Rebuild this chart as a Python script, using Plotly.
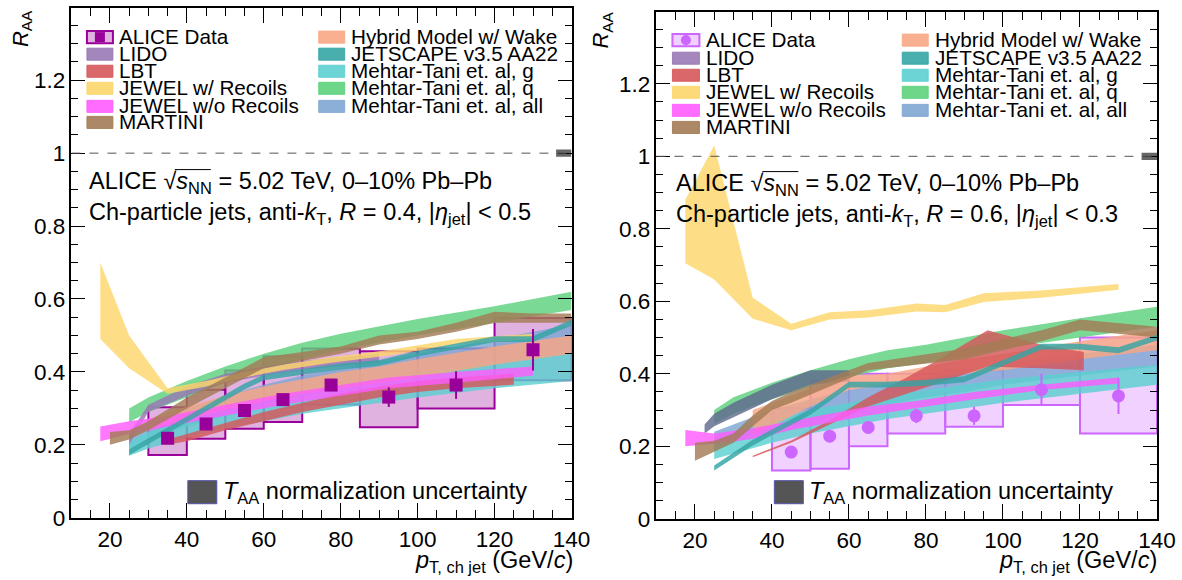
import plotly.graph_objects as go

FONT = "Liberation Sans, Arial, Helvetica, sans-serif"
# layout coordinates below are given on a 1182 x 580 grid; the canvas itself
# is slightly larger and is shown shrunk to that grid
GRID_W, GRID_H = 1182, 580
W, H = 1200, 595

# ---------------- R = 0.4, |eta_jet| < 0.5 ----------------
L_EDGES = [30, 40, 50, 60, 70, 85, 100, 120, 140]
L_RAA = [0.218, 0.257, 0.294, 0.324, 0.364, 0.331, 0.364, 0.461]
L_STAT = [0.010, 0.010, 0.010, 0.010, 0.012, 0.027, 0.038, 0.057]
L_SYS_LO = [0.172, 0.217, 0.244, 0.263, 0.311, 0.248, 0.300, 0.377]
L_SYS_HI = [0.303, 0.351, 0.404, 0.443, 0.464, 0.457, 0.464, 0.548]

L_LIDO_X = [25, 30, 40, 50, 60, 70, 80, 90]
L_LIDO_LO = [0.20, 0.29, 0.335, 0.37, 0.39, 0.405, 0.415, 0.425]
L_LIDO_HI = [0.23, 0.31, 0.36, 0.395, 0.415, 0.43, 0.44, 0.45]

L_LBT_X = [35, 40, 50, 60, 70, 80, 90, 100, 110, 125]
L_LBT_LO = [0.20, 0.21, 0.24, 0.265, 0.29, 0.31, 0.33, 0.345, 0.355, 0.365]
L_LBT_HI = [0.215, 0.23, 0.26, 0.29, 0.315, 0.34, 0.36, 0.375, 0.385, 0.395]

L_JEWELR_X = [17.5, 25, 35, 45, 55, 65, 77.5, 92.5, 110, 130]
L_JEWELR_LO = [0.49, 0.41, 0.34, 0.36, 0.385, 0.405, 0.425, 0.445, 0.475, 0.49]
L_JEWELR_HI = [0.70, 0.50, 0.355, 0.375, 0.40, 0.42, 0.44, 0.46, 0.49, 0.505]

L_JEWEL_X = [17.5, 25, 35, 45, 55, 65, 77.5, 92.5, 110, 130]
L_JEWEL_LO = [0.21, 0.23, 0.25, 0.27, 0.29, 0.31, 0.33, 0.355, 0.37, 0.39]
L_JEWEL_HI = [0.25, 0.265, 0.28, 0.30, 0.32, 0.34, 0.36, 0.385, 0.40, 0.415]

L_MARTINI_X = [20, 25, 30, 40, 50, 60, 70, 80, 90, 100, 110, 120, 130, 140]
L_MARTINI_LO = [0.20, 0.215, 0.24, 0.30, 0.355, 0.41, 0.43, 0.45, 0.475, 0.49, 0.51, 0.535, 0.535, 0.535]
L_MARTINI_HI = [0.235, 0.24, 0.265, 0.33, 0.385, 0.44, 0.455, 0.47, 0.50, 0.51, 0.535, 0.565, 0.56, 0.56]

L_HYBRID_X = [30, 40, 50, 60, 70, 80, 90, 100, 120, 140]
L_HYBRID_LO = [0.24, 0.27, 0.295, 0.32, 0.34, 0.355, 0.37, 0.385, 0.42, 0.45]
L_HYBRID_HI = [0.27, 0.305, 0.335, 0.36, 0.38, 0.40, 0.415, 0.435, 0.47, 0.50]

L_JETSCAPE_X = [25, 35, 45, 55, 60, 70, 80, 90, 100, 110, 120, 130, 140]
L_JETSCAPE_LO = [0.172, 0.232, 0.292, 0.352, 0.377, 0.392, 0.407, 0.417, 0.442, 0.462, 0.482, 0.482, 0.527]
L_JETSCAPE_HI = [0.188, 0.248, 0.308, 0.368, 0.393, 0.408, 0.423, 0.433, 0.458, 0.478, 0.498, 0.498, 0.543]

L_MT_X = [25, 30, 40, 50, 60, 70, 80, 90, 100, 120, 140]
L_MTG_LO = [0.17, 0.19, 0.22, 0.245, 0.265, 0.285, 0.30, 0.315, 0.33, 0.355, 0.375]
L_MTG_HI = [0.21, 0.235, 0.27, 0.30, 0.325, 0.345, 0.365, 0.38, 0.395, 0.425, 0.455]
L_MTQ_LO = [0.262, 0.29, 0.33, 0.37, 0.405, 0.435, 0.46, 0.48, 0.50, 0.535, 0.57]
L_MTQ_HI = [0.30, 0.33, 0.375, 0.415, 0.45, 0.48, 0.505, 0.525, 0.545, 0.58, 0.62]
L_MTA_LO = [0.19, 0.21, 0.25, 0.28, 0.31, 0.335, 0.355, 0.37, 0.385, 0.42, 0.45]
L_MTA_HI = [0.235, 0.26, 0.30, 0.335, 0.365, 0.39, 0.41, 0.43, 0.45, 0.49, 0.53]

# ---------------- R = 0.6, |eta_jet| < 0.3 ----------------
R_EDGES = [40, 50, 60, 70, 85, 100, 120, 140]
R_RAA = [0.184, 0.228, 0.252, 0.284, 0.284, 0.356, 0.339]
R_STAT = [0.010, 0.010, 0.012, 0.020, 0.025, 0.045, 0.050]
R_SYS_LO = [0.133, 0.138, 0.200, 0.235, 0.254, 0.314, 0.235]
R_SYS_HI = [0.305, 0.380, 0.400, 0.400, 0.410, 0.420, 0.500]

R_LIDO_X = [22.5, 25, 30, 40, 50, 60]
R_LIDO_LO = [0.235, 0.255, 0.28, 0.33, 0.37, 0.38]
R_LIDO_HI = [0.26, 0.29, 0.32, 0.37, 0.41, 0.41]

R_LBT_X = [35, 45, 55, 65, 75, 85, 96, 110, 121]
R_LBT_LO = [0.17, 0.21, 0.26, 0.31, 0.345, 0.38, 0.42, 0.415, 0.41]
R_LBT_HI = [0.174, 0.216, 0.272, 0.335, 0.39, 0.45, 0.52, 0.48, 0.46]

R_JEWELR_X = [17.5, 25, 35, 45, 55, 65, 77.5, 85, 95, 110, 130]
R_JEWELR_LO = [0.705, 0.66, 0.552, 0.52, 0.55, 0.555, 0.572, 0.57, 0.598, 0.61, 0.632]
R_JEWELR_HI = [0.88, 1.03, 0.61, 0.538, 0.57, 0.575, 0.594, 0.59, 0.622, 0.63, 0.648]

R_JEWEL_X = [17.5, 25, 35, 45, 55, 65, 77.5, 92.5, 110, 130]
R_JEWEL_LO = [0.20, 0.207, 0.22, 0.245, 0.265, 0.285, 0.305, 0.33, 0.355, 0.373]
R_JEWEL_HI = [0.245, 0.235, 0.25, 0.27, 0.29, 0.31, 0.325, 0.35, 0.37, 0.39]

R_MARTINI_X = [20, 25, 30, 35, 40, 45, 55, 65, 77.5, 90, 100, 110, 120, 130, 140]
R_MARTINI_LO = [0.16, 0.185, 0.21, 0.255, 0.30, 0.32, 0.365, 0.41, 0.425, 0.44, 0.465, 0.49, 0.52, 0.51, 0.50]
R_MARTINI_HI = [0.21, 0.215, 0.235, 0.285, 0.325, 0.35, 0.39, 0.43, 0.45, 0.47, 0.495, 0.52, 0.55, 0.54, 0.53]

R_HYBRID_X = [35, 40, 50, 60, 70, 80, 90, 100, 120, 140]
R_HYBRID_LO = [0.23, 0.255, 0.31, 0.355, 0.37, 0.385, 0.40, 0.41, 0.44, 0.465]
R_HYBRID_HI = [0.30, 0.32, 0.36, 0.395, 0.40, 0.42, 0.44, 0.455, 0.49, 0.52]

R_JETSCAPE_X = [25, 35, 50, 60, 70, 80, 90, 100, 110, 120, 130, 140]
R_JETSCAPE_LO = [0.133, 0.202, 0.287, 0.362, 0.362, 0.367, 0.377, 0.422, 0.467, 0.467, 0.457, 0.492]
R_JETSCAPE_HI = [0.147, 0.218, 0.303, 0.378, 0.378, 0.383, 0.393, 0.438, 0.483, 0.483, 0.473, 0.508]

R_MT_X = [25, 30, 40, 50, 60, 70, 80, 90, 100, 120, 140]
R_MTG_LO = [0.165, 0.18, 0.21, 0.235, 0.255, 0.275, 0.29, 0.305, 0.32, 0.345, 0.37]
R_MTG_HI = [0.215, 0.235, 0.27, 0.30, 0.32, 0.34, 0.355, 0.37, 0.385, 0.405, 0.425]
R_MTQ_LO = [0.262, 0.29, 0.33, 0.365, 0.39, 0.415, 0.43, 0.45, 0.47, 0.50, 0.53]
R_MTQ_HI = [0.30, 0.335, 0.375, 0.41, 0.44, 0.465, 0.48, 0.50, 0.52, 0.553, 0.585]
R_MTA_LO = [0.19, 0.21, 0.245, 0.27, 0.295, 0.315, 0.335, 0.35, 0.37, 0.395, 0.42]
R_MTA_HI = [0.24, 0.26, 0.30, 0.33, 0.355, 0.375, 0.39, 0.41, 0.43, 0.455, 0.48]

# T_AA normalisation box drawn at R_AA = 1
TAA_X = [136, 140]
TAA_LO = 0.99
TAA_HI = 1.01

# Model colours
C_LIDO = "#9979b5"
C_LIDO_DARK = "#5f6a8e"
C_LBT = "#d6575a"
C_JEWELR = "#fcd66a"
C_JEWEL = "#ff5cff"
C_MARTINI = "#a37b55"
C_HYBRID = "#f8a784"
C_JETSCAPE = "#35a5a5"
C_MTG = "#5ccfd0"
C_MTQ = "#5dd17c"
C_MTA = "#7ea6d3"

LEGEND_LEFT = [("LIDO", C_LIDO), ("LBT", C_LBT), ("JEWEL w/ Recoils", C_JEWELR),
               ("JEWEL w/o Recoils", C_JEWEL), ("MARTINI", C_MARTINI)]
LEGEND_RIGHT = [("Hybrid Model w/ Wake", C_HYBRID), ("JETSCAPE v3.5 AA22", C_JETSCAPE),
                ("Mehtar-Tani et. al, g", C_MTG), ("Mehtar-Tani et. al, q", C_MTQ),
                ("Mehtar-Tani et. al, all", C_MTA)]


def rgba(hexc, a):
    h = hexc.lstrip("#")
    return f"rgba({int(h[0:2],16)},{int(h[2:4],16)},{int(h[4:6],16)},{a})"


def px(x):
    return x / GRID_W


def py(y):
    return 1 - y / GRID_H


fig = go.Figure()


def band(xs, lo, hi, color, xa, ya, alpha=0.82):
    fig.add_trace(go.Scatter(
        x=list(xs) + list(xs)[::-1], y=list(hi) + list(lo)[::-1],
        fill="toself", fillcolor=rgba(color, alpha), mode="lines",
        line=dict(width=0), hoverinfo="skip", showlegend=False,
        xaxis=xa, yaxis=ya))


def panel(edges, raa, stat, slo, shi, models, xa, ya, mcolor, mfill, msym, msize):
    centers = [(a + b) / 2 for a, b in zip(edges[:-1], edges[1:])]
    widths = [b - a for a, b in zip(edges[:-1], edges[1:])]
    fig.add_trace(go.Bar(
        x=centers, width=widths, base=slo, y=[h - l for h, l in zip(shi, slo)],
        marker=dict(color=mfill, line=dict(color=mcolor, width=2)),
        hoverinfo="skip", showlegend=False, xaxis=xa, yaxis=ya))
    for xs, lo, hi, col in models:
        band(xs, lo, hi, col, xa, ya)
    band(TAA_X, [TAA_LO, TAA_LO], [TAA_HI, TAA_HI], "#555555", xa, ya, 0.9)
    fig.add_trace(go.Scatter(
        x=centers, y=raa, mode="markers",
        marker=dict(symbol=msym, size=msize, color=mcolor),
        error_y=dict(type="data", array=stat, color=mcolor, thickness=2, width=0),
        hoverinfo="skip", showlegend=False, xaxis=xa, yaxis=ya))


models_left = [
    (L_MT_X, L_MTQ_LO, L_MTQ_HI, C_MTQ),
    (L_MT_X, L_MTA_LO, L_MTA_HI, C_MTA),
    (L_MT_X, L_MTG_LO, L_MTG_HI, C_MTG),
    (L_LIDO_X, L_LIDO_LO, L_LIDO_HI, C_LIDO),
    (L_JEWELR_X, L_JEWELR_LO, L_JEWELR_HI, C_JEWELR),
    (L_HYBRID_X, L_HYBRID_LO, L_HYBRID_HI, C_HYBRID),
    (L_LBT_X, L_LBT_LO, L_LBT_HI, C_LBT),
    (L_JEWEL_X, L_JEWEL_LO, L_JEWEL_HI, C_JEWEL),
    (L_MARTINI_X, L_MARTINI_LO, L_MARTINI_HI, C_MARTINI),
    (L_JETSCAPE_X, L_JETSCAPE_LO, L_JETSCAPE_HI, C_JETSCAPE),
]
models_right = [
    (R_MT_X, R_MTQ_LO, R_MTQ_HI, C_MTQ),
    (R_MT_X, R_MTA_LO, R_MTA_HI, C_MTA),
    (R_MT_X, R_MTG_LO, R_MTG_HI, C_MTG),
    (R_LIDO_X, R_LIDO_LO, R_LIDO_HI, C_LIDO_DARK),
    (R_JEWELR_X, R_JEWELR_LO, R_JEWELR_HI, C_JEWELR),
    (R_HYBRID_X, R_HYBRID_LO, R_HYBRID_HI, C_HYBRID),
    (R_LBT_X, R_LBT_LO, R_LBT_HI, C_LBT),
    (R_JEWEL_X, R_JEWEL_LO, R_JEWEL_HI, C_JEWEL),
    (R_MARTINI_X, R_MARTINI_LO, R_MARTINI_HI, C_MARTINI),
    (R_JETSCAPE_X, R_JETSCAPE_LO, R_JETSCAPE_HI, C_JETSCAPE),
]

panel(L_EDGES, L_RAA, L_STAT, L_SYS_LO, L_SYS_HI, models_left, "x", "y",
      "#990099", "rgba(153,0,153,0.30)", "square", 13)
panel(R_EDGES, R_RAA, R_STAT, R_SYS_LO, R_SYS_HI, models_right, "x2", "y2",
      "#cc66ff", "rgba(204,102,255,0.30)", "circle", 13)

tickfont = dict(family=FONT, size=22.5, color="black")


def xaxis_cfg(dom, anchor):
    return dict(domain=dom, anchor=anchor, range=[10, 140.01], tick0=0, dtick=20,
                ticks="inside", ticklen=15, tickwidth=1, tickcolor="black",
                showline=True, linecolor="black", linewidth=1.5, mirror="allticks",
                showgrid=False, zeroline=False, tickfont=tickfont,
                minor=dict(dtick=5, tick0=0, ticks="inside", ticklen=8,
                           tickcolor="black", showgrid=False))


def yaxis_cfg(dom, anchor):
    return dict(domain=dom, anchor=anchor, range=[0, 1.398], tick0=0, dtick=0.2,
                ticks="inside", ticklen=14, tickwidth=1, tickcolor="black",
                showline=True, linecolor="black", linewidth=1.5, mirror="allticks",
                showgrid=False, zeroline=False, tickfont=tickfont,
                minor=dict(dtick=0.05, tick0=0, ticks="inside", ticklen=7,
                           tickcolor="black", showgrid=False))


shapes = []
annotations = []


def text(x, y, s, size, anchor="left"):
    annotations.append(dict(x=px(x), y=py(y), xref="paper", yref="paper", text=s,
                            showarrow=False, xanchor=anchor, yanchor="middle",
                            font=dict(family=FONT, size=size, color="black")))


def rect(x0, y0, x1, y1, fill, line=None, lw=1):
    shapes.append(dict(type="rect", xref="paper", yref="paper",
                       x0=px(x0), x1=px(x1), y0=py(y1), y1=py(y0),
                       fillcolor=fill, line=dict(color=line or fill, width=lw)))


def panel_decor(xr, yr, leg_c1_box, leg_c1_txt, leg_c2_box, leg_c2_txt, rows,
                txt_x, txt_y, R, eta, taa_box, taa_txt, taa_y, title_right, raa_pos,
                mcolor, mfill, marker_shape):
    shapes.append(dict(type="line", xref=xr, yref=yr, x0=10, x1=140, y0=1, y1=1,
                       line=dict(color="#555555", width=1, dash="dash")))
    # legend: ALICE data entry
    bx0, bx1 = leg_c1_box
    cy = rows[0]
    rect(bx0, cy - 6, bx1, cy + 6, mfill, mcolor, 2)
    cx = (bx0 + bx1) / 2
    shapes.append(dict(type=marker_shape, xref="paper", yref="paper",
                       x0=px(cx - 5), x1=px(cx + 5), y0=py(cy + 5), y1=py(cy - 5),
                       fillcolor=mcolor, line=dict(color=mcolor, width=0)))
    text(leg_c1_txt, cy - 1, "ALICE Data", 20.7)
    for (name, col), cy in zip(LEGEND_LEFT, rows[1:]):
        rect(bx0, cy - 6, bx1, cy + 6, rgba(col, 0.9))
        text(leg_c1_txt, cy - 1, name, 20.7)
    bx0, bx1 = leg_c2_box
    for (name, col), cy in zip(LEGEND_RIGHT, rows[:5]):
        rect(bx0, cy - 6, bx1, cy + 6, rgba(col, 0.9))
        text(leg_c2_txt, cy - 1, name, 20.7)
    # collision system text, with the radical's overline
    text(txt_x, txt_y, "ALICE √<i>s</i><sub>NN</sub> = 5.02 TeV, 0–10% Pb–Pb", 23.5)
    shapes.append(dict(type="line", xref="paper", yref="paper",
                       x0=px(txt_x + 88), x1=px(txt_x + 124),
                       y0=py(txt_y - 13), y1=py(txt_y - 13),
                       line=dict(color="black", width=1)))
    text(txt_x, txt_y + 31,
         f"Ch-particle jets, anti-<i>k</i><sub>T</sub>, <i>R</i> = {R}, |<i>η</i><sub>jet</sub>| < {eta}", 23.5)
    # T_AA legend
    rect(taa_box[0], taa_y - 12, taa_box[1], taa_y + 11, "#555555", "#5555aa", 1)
    text(taa_txt, taa_y, "<i>T</i><sub>AA</sub> normalization uncertainty", 23.5)
    # axis titles
    text(title_right, 560, "<i>p</i><sub>T, ch jet</sub> (GeV/<i>c</i>)", 23.5, anchor="right")
    annotations.append(dict(x=px(raa_pos[0]), y=py(raa_pos[1]), xref="paper", yref="paper",
                            text="<i>R</i><sub>AA</sub>", textangle=-90, showarrow=False,
                            xanchor="center", yanchor="middle",
                            font=dict(family=FONT, size=22, color="black")))


panel_decor("x", "y", (87, 113), 117, (319, 345), 349, [37, 54, 71, 88, 106, 122],
            87, 182, "0.4", "0.5", (188, 217), 221, 491, 575, (22, 28),
            "#990099", "rgba(153,0,153,0.30)", "rect")
panel_decor("x2", "y2", (673, 700), 705, (903, 929), 934, [40, 58, 75, 92, 110, 127],
            675, 184, "0.6", "0.3", (775, 804), 808, 491, 1160, (603, 30),
            "#cc66ff", "rgba(204,102,255,0.30)", "circle")

fig.update_layout(
    width=W, height=H, margin=dict(l=0, r=0, t=0, b=0),
    paper_bgcolor="white", plot_bgcolor="white", showlegend=False,
    barmode="overlay",
    xaxis=xaxis_cfg([px(71.5), px(572)], "y"),
    yaxis=yaxis_cfg([py(516), py(8)], "x"),
    xaxis2=xaxis_cfg([px(657), px(1158)], "y2"),
    yaxis2=yaxis_cfg([py(517), py(12)], "x2"),
    shapes=shapes, annotations=annotations,
)

fig.write_html("out.html")
